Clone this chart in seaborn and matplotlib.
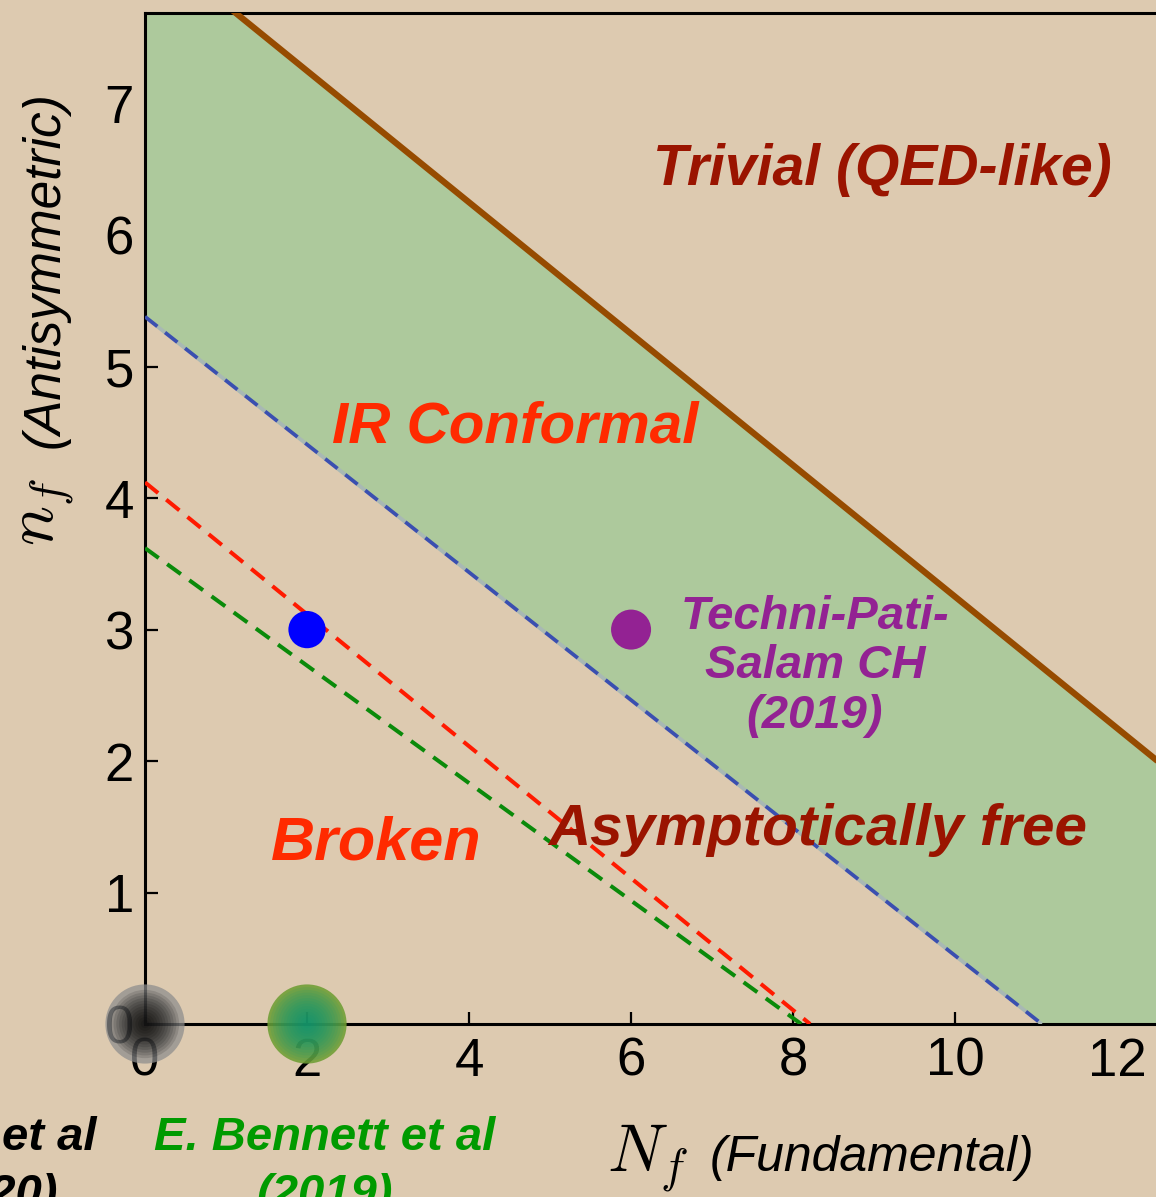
import numpy as np
import pandas as pd
import matplotlib
matplotlib.use("Agg")
import matplotlib.pyplot as plt
import seaborn as sns

# ---------------- data ----------------
# boundary lines (two end points each): N_f (fundamental) vs n_f (antisymmetric)
af_Nf = [0.0, 16.5]      # loss of asymptotic freedom
af_nf = [8.25, 0.0]
cw_Nf = [0.0, 11.07]     # lower edge of conformal window (blue dashed)
cw_nf = [5.38, 0.0]
red_Nf = [0.0, 8.21]     # red dashed estimate
red_nf = [4.12, 0.0]
grn_Nf = [0.0, 8.10]     # green dashed estimate
grn_nf = [3.62, 0.0]

# studied theories
pts_Nf = [2, 6]
pts_nf = [3, 3]
blob_Nf = [0, 2]
blob_nf = [0, 0]

xticks = [0, 2, 4, 6, 8, 10, 12]
yticks = [0, 1, 2, 3, 4, 5, 6, 7]

# ---------------- style ----------------
sns.set_theme(style="ticks")
plt.rcParams["font.family"] = ["Liberation Sans", "DejaVu Sans"]
plt.rcParams["mathtext.fontset"] = "cm"
plt.rcParams["text.color"] = "black"
plt.rcParams["xtick.color"] = "black"
plt.rcParams["ytick.color"] = "black"

BG = "#ddcab0"
GREEN_FILL = "#adc99c"

fig = plt.figure(figsize=(11.56, 11.97), dpi=100, facecolor=BG)
W, H = 1156, 1197
L, R, T, B = 145, 1156, 13, 1024
ax = fig.add_axes([L / W, (H - B) / H, (R - L) / W, (B - T) / H])
ax.set_facecolor(BG)
xmax, ymax = 12.48, 7.69
ax.set_xlim(0, xmax)
ax.set_ylim(0, ymax)

# conformal window fill
xg = np.linspace(0, xmax, 400)
upper = np.interp(xg, af_Nf, af_nf)
lower = np.interp(xg, cw_Nf, cw_nf, right=0.0)
ax.fill_between(xg, lower, upper, color=GREEN_FILL, lw=0, zorder=1)

# lines
sns.lineplot(x=af_Nf, y=af_nf, ax=ax, color="#964b00", lw=4.5, zorder=3)
sns.lineplot(x=cw_Nf, y=cw_nf, ax=ax, color="#3a4fb0", lw=2.7,
             linestyle=(0, (4.2, 2.6)), zorder=3)
ax.lines[-1].set_gapcolor("#a8b8b4")
sns.lineplot(x=red_Nf, y=red_nf, ax=ax, color="#ff1a00", lw=2.9,
             linestyle=(0, (4.2, 2.6)), zorder=3)
sns.lineplot(x=grn_Nf, y=grn_nf, ax=ax, color="#0a8a0a", lw=2.9,
             linestyle=(0, (4.2, 2.6)), zorder=3)

# points
sns.scatterplot(x=pts_Nf[:1], y=pts_nf[:1], ax=ax, color="#0000ff", s=720,
                edgecolor="none", zorder=5)
sns.scatterplot(x=pts_Nf[1:], y=pts_nf[1:], ax=ax, color="#932293", s=830,
                edgecolor="none", zorder=5)

# blurred blobs on the axis (radial gradient by stacking)
smax = 57 ** 2
sizes = np.linspace(57, 6, 14) ** 2
sns.scatterplot(x=blob_Nf[:1], y=blob_nf[:1], ax=ax, color="#8c8c8c", s=smax,
                alpha=0.72, edgecolor="none", zorder=10, clip_on=False)
for s in sizes[2:]:
    sns.scatterplot(x=blob_Nf[:1], y=blob_nf[:1], ax=ax, color="black", s=s,
                    alpha=0.12, edgecolor="none", zorder=11, clip_on=False)
sns.scatterplot(x=blob_Nf[1:], y=blob_nf[1:], ax=ax, color="#6e9e34", s=smax,
                alpha=0.88, edgecolor="none", zorder=10, clip_on=False)
for s in sizes[1:]:
    sns.scatterplot(x=blob_Nf[1:], y=blob_nf[1:], ax=ax, color="#00957a", s=s,
                    alpha=0.10, edgecolor="none", zorder=11, clip_on=False)

# axes styling
ax.set_xticks(xticks)
ax.set_yticks(yticks)
ax.set_xticklabels([str(v) for v in xticks])
ax.set_yticklabels([str(v) for v in yticks])
ax.tick_params(direction="in", length=9, width=1.6, labelsize=38,
               colors="black", pad=9)
ax.tick_params(axis="y", pad=8)
for side in ["left", "bottom", "top"]:
    ax.spines[side].set_visible(True)
    ax.spines[side].set_linewidth(2.2)
    ax.spines[side].set_color("black")
ax.spines["right"].set_visible(False)
ax.set_xlabel("")
ax.set_ylabel("")

# region labels
kw = dict(fontweight="bold", style="italic", ha="center", va="baseline", zorder=6)
ax.text(9.10, 6.385, "Trivial (QED-like)", color="#9a1400", fontsize=41, **kw)
ax.text(4.57, 4.42, "IR Conformal", color="#ff2a00", fontsize=42, **kw)
ax.text(2.85, 1.25, "Broken", color="#ff2a00", fontsize=44, **kw)
ax.text(8.31, 1.36, "Asymptotically free", color="#9a1400", fontsize=42, **kw)
ax.text(8.27, 2.72, "Techni-Pati-\nSalam CH\n(2019)", color="#932293",
        fontsize=34, fontweight="bold", style="italic", ha="center",
        va="center", linespacing=1.17, zorder=6)

# axis labels
fig.text(648 / W, 1 - 1158 / H, r"$N_f$", fontsize=48, ha="center", va="center",
         color="black")
fig.text(710 / W, 1 - 1158 / H, "(Fundamental)", fontsize=36, style="italic",
         ha="left", va="center", color="black")
fig.text(45 / W, 1 - 270 / H, "(Antisymmetric)", fontsize=37, style="italic",
         rotation=90, ha="center", va="center", color="black")
fig.text(45 / W, 1 - 512 / H, r"$n_f$", fontsize=48, rotation=90,
         ha="center", va="center", color="black")

# reference labels below the axis
fig.text(97 / W, 1 - 1150 / H, "et al", fontsize=34, fontweight="bold",
         style="italic", ha="right", va="baseline", color="black")
fig.text(58 / W, 1 - 1207 / H, "(2020)", fontsize=34, fontweight="bold",
         style="italic", ha="right", va="baseline", color="black")
fig.text(325 / W, 1 - 1150 / H, "E. Bennett et al", fontsize=34,
         fontweight="bold", style="italic", ha="center", va="baseline",
         color="#009a00")
fig.text(325 / W, 1 - 1207 / H, "(2019)", fontsize=34,
         fontweight="bold", style="italic", ha="center", va="baseline",
         color="#009a00")

fig.savefig("out.png", dpi=100, facecolor=BG)
